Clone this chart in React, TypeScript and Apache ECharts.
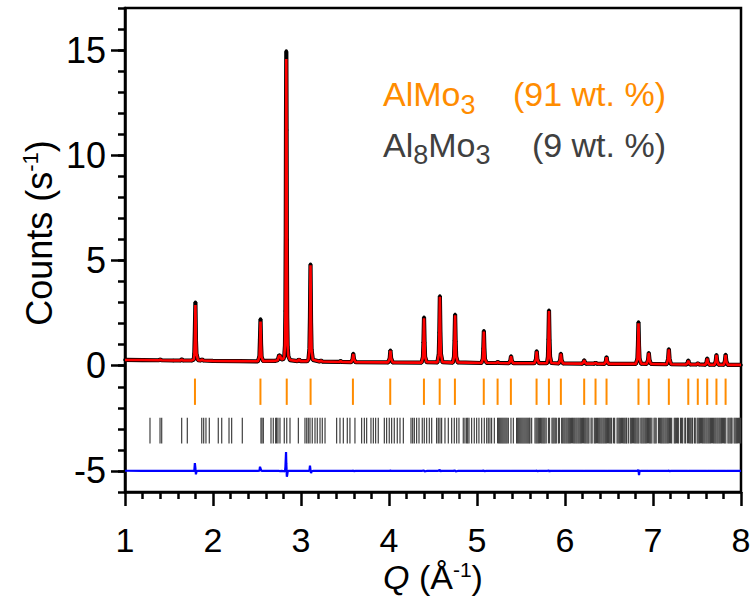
import React, { useEffect, useRef } from "react";
import * as echarts from "echarts";

// ---------- axis ticks ----------
const xTickValues = [1, 2, 3, 4, 5, 6, 7, 8];
const yMajorTicks = [-5, 0, 5, 10, 15];
const xRange = [1, 8];
const yRange = [-6, 17];

// ---------- texts ----------
const phaseLabels = [
  { parts: [["Al", false], ["Mo", false], ["3", true]], fraction: "(91 wt. %)" },
  { parts: [["Al", false], ["8", true], ["Mo", false], ["3", true]], fraction: "(9 wt. %)" },
];
// x-axis title pieces: [text, kind]
const xTitleParts = [["Q", "italic"], [" (Å", "normal"], ["-1", "sup"], [")", "normal"]];

// ---------- reflection markers (Q, 1/Å) ----------
const almo3Reflections = [
  1.795, 2.539, 2.838, 3.109, 3.590, 4.014, 4.397, 4.576, 4.749, 5.077,
  5.234, 5.385, 5.677, 5.817, 5.953, 6.218, 6.347, 6.472, 6.835, 6.952,
  7.180, 7.401, 7.509, 7.616, 7.721, 7.825,
];
const al8mo3Reflections = [
  1.284, 1.398, 1.417, 1.644, 1.708, 1.872, 1.894, 1.920, 1.958, 2.060,
  2.099, 2.182, 2.212, 2.333, 2.545, 2.557, 2.572, 2.659, 2.685, 2.712,
  2.722, 2.738, 2.761, 2.810, 2.838, 2.875, 2.970, 3.045, 3.065, 3.083,
  3.102, 3.128, 3.159, 3.185, 3.216, 3.242, 3.273, 3.405, 3.443, 3.481,
  3.526, 3.556, 3.613, 3.689, 3.720, 3.746, 3.795, 3.822, 3.848, 3.878,
  3.947, 3.973, 4.003, 4.030, 4.060, 4.094, 4.125, 4.163, 4.250, 4.269,
  4.288, 4.314, 4.341, 4.378, 4.401, 4.428, 4.458, 4.485, 4.541, 4.560,
  4.579, 4.598, 4.636, 4.674, 4.712, 4.742, 4.769, 4.795, 4.844, 4.863,
  4.882, 4.894, 4.909, 4.939, 4.969, 4.996, 5.022, 5.053, 5.083, 5.110,
  5.128, 5.147, 5.166, 5.197, 5.234, 5.246, 5.258, 5.270, 5.282, 5.294,
  5.306, 5.318, 5.330, 5.342, 5.356, 5.386, 5.413, 5.450, 5.462, 5.474,
  5.486, 5.498, 5.510, 5.522, 5.534, 5.546, 5.558, 5.570, 5.582, 5.594,
  5.602, 5.621, 5.659, 5.672, 5.684, 5.697, 5.709, 5.722, 5.735, 5.748,
  5.760, 5.772, 5.786, 5.812, 5.824, 5.852, 5.864, 5.876, 5.889, 5.901,
  5.925, 5.937, 5.962, 5.974, 5.987, 5.999, 6.012, 6.024, 6.037, 6.049,
  6.061, 6.074, 6.086, 6.099, 6.111, 6.124, 6.136, 6.149, 6.161, 6.174,
  6.186, 6.199, 6.211, 6.224, 6.236, 6.249, 6.261, 6.272, 6.296, 6.308,
  6.333, 6.345, 6.358, 6.370, 6.383, 6.395, 6.408, 6.420, 6.433, 6.445,
  6.458, 6.470, 6.483, 6.495, 6.508, 6.520, 6.530, 6.552, 6.564, 6.592,
  6.604, 6.617, 6.629, 6.642, 6.654, 6.667, 6.679, 6.692, 6.700, 6.720,
  6.742, 6.754, 6.767, 6.779, 6.792, 6.804, 6.817, 6.829, 6.840, 6.862,
  6.874, 6.887, 6.899, 6.912, 6.924, 6.937, 6.949, 6.962, 6.974, 6.987,
  7.012, 7.024, 7.036, 7.062, 7.074, 7.087, 7.099, 7.112, 7.124, 7.137,
  7.149, 7.162, 7.174, 7.187, 7.199, 7.212, 7.242, 7.254, 7.266, 7.279,
  7.288, 7.312, 7.324, 7.337, 7.362, 7.370, 7.392, 7.404, 7.417, 7.429,
  7.442, 7.450, 7.472, 7.480, 7.502, 7.514, 7.527, 7.539, 7.552, 7.564,
  7.577, 7.589, 7.602, 7.614, 7.627, 7.639, 7.652, 7.664, 7.677, 7.689,
  7.702, 7.714, 7.727, 7.739, 7.752, 7.764, 7.777, 7.789, 7.802, 7.814,
  7.827, 7.852, 7.864, 7.877, 7.889, 7.898, 7.922, 7.934, 7.947, 7.959,
  7.972, 7.984, 7.996,
];
const almo3MarkRange = [-0.61, -1.86];
const al8mo3MarkRange = [-2.47, -3.69];

// ---------- diffraction profile ----------
const profileQ = [
  1.000, 1.200, 1.385, 1.400, 1.415, 1.550, 1.630, 1.645, 1.660, 1.760,
  1.782, 1.788, 1.794, 1.800, 1.806, 1.812, 1.830,
  1.860, 1.875, 1.890, 2.000, 2.300, 2.510,
  2.528, 2.534, 2.540, 2.546, 2.552, 2.570,
  2.700, 2.735, 2.748, 2.755, 2.762, 2.780, 2.800, 2.810, 2.818, 2.823, 2.827, 2.830, 2.833, 2.836, 2.839, 2.843, 2.848, 2.856, 2.875,
  2.960, 2.977, 2.994, 3.070, 3.085, 3.096, 3.102, 3.108, 3.114, 3.120, 3.135,
  3.210, 3.227, 3.244, 3.435, 3.450, 3.465, 3.570, 3.586, 3.594, 3.602, 3.620, 3.990, 4.008, 4.016, 4.024, 4.042,
  4.370, 4.386, 4.392, 4.398, 4.404, 4.410, 4.428, 4.550, 4.566, 4.572, 4.578, 4.584, 4.590, 4.608, 4.725, 4.739, 4.745, 4.751, 4.757, 4.763, 4.781,
  5.050, 5.066, 5.072, 5.078, 5.084, 5.090, 5.108, 5.220, 5.236, 5.252, 5.362, 5.379, 5.387, 5.395, 5.412, 5.652, 5.670, 5.678, 5.686, 5.704,
  5.795, 5.806, 5.812, 5.818, 5.824, 5.830, 5.845, 5.928, 5.945, 5.953, 5.961, 5.978, 6.195, 6.210, 6.218, 6.226, 6.241, 6.330, 6.347, 6.364, 6.448, 6.464, 6.472, 6.480, 6.496,
  6.805, 6.823, 6.829, 6.835, 6.841, 6.847, 6.865, 6.928, 6.944, 6.952, 6.960, 6.976, 7.155, 7.172, 7.180, 7.188, 7.205,
  7.378, 7.393, 7.401, 7.409, 7.424, 7.493, 7.509, 7.525, 7.595, 7.608, 7.616, 7.624, 7.640, 7.700, 7.713, 7.721, 7.729, 7.745, 7.805, 7.817, 7.825, 7.833, 7.850, 8.000,
];
const observedCounts = [
  0.28, 0.27, 0.26, 0.30, 0.26, 0.25, 0.25, 0.31, 0.25, 0.25,
  0.30, 0.58, 1.62, 3.02, 1.20, 0.55, 0.27,
  0.25, 0.30, 0.25, 0.23, 0.22, 0.21,
  0.45, 1.25, 2.22, 1.02, 0.42, 0.23,
  0.23, 0.26, 0.45, 0.51, 0.45, 0.30, 0.32, 0.45, 0.95, 2.60, 6.20, 11.90, 14.95, 11.20, 6.00, 2.30, 0.90, 0.45, 0.27,
  0.22, 0.30, 0.22, 0.22, 0.30, 0.80, 2.30, 4.82, 2.05, 0.75, 0.28,
  0.20, 0.24, 0.20, 0.18, 0.22, 0.18, 0.17, 0.30, 0.58, 0.30, 0.17, 0.16, 0.34, 0.74, 0.35, 0.16,
  0.15, 0.42, 1.12, 2.30, 1.10, 0.42, 0.17, 0.16, 0.55, 1.58, 3.31, 1.55, 0.56, 0.17, 0.15, 0.43, 1.20, 2.44, 1.16, 0.44, 0.16,
  0.13, 0.32, 0.82, 1.66, 0.80, 0.32, 0.14, 0.13, 0.18, 0.13, 0.12, 0.24, 0.46, 0.24, 0.12, 0.12, 0.30, 0.70, 0.30, 0.12,
  0.12, 0.42, 1.26, 2.64, 1.22, 0.43, 0.13, 0.11, 0.26, 0.58, 0.26, 0.11, 0.10, 0.16, 0.27, 0.16, 0.10, 0.10, 0.14, 0.10, 0.09, 0.20, 0.42, 0.20, 0.09,
  0.09, 0.33, 0.98, 2.08, 0.92, 0.33, 0.10, 0.09, 0.27, 0.62, 0.27, 0.09, 0.07, 0.32, 0.80, 0.32, 0.07,
  0.06, 0.13, 0.26, 0.13, 0.06, 0.06, 0.12, 0.06, 0.05, 0.16, 0.36, 0.16, 0.05, 0.05, 0.22, 0.52, 0.22, 0.05, 0.05, 0.22, 0.53, 0.22, 0.04, 0.04,
];
const calculatedCounts = [
  0.27, 0.27, 0.26, 0.29, 0.26, 0.25, 0.25, 0.30, 0.25, 0.25,
  0.30, 0.55, 1.25, 2.88, 1.36, 0.58, 0.26,
  0.25, 0.30, 0.25, 0.23, 0.22, 0.21,
  0.44, 1.05, 2.10, 0.98, 0.42, 0.22,
  0.23, 0.26, 0.44, 0.50, 0.46, 0.30, 0.33, 0.45, 0.98, 2.40, 5.60, 11.00, 14.58, 11.10, 6.27, 2.50, 0.95, 0.45, 0.27,
  0.22, 0.30, 0.22, 0.22, 0.30, 0.78, 2.05, 4.78, 2.15, 0.77, 0.28,
  0.20, 0.24, 0.20, 0.18, 0.22, 0.18, 0.17, 0.30, 0.56, 0.31, 0.17, 0.16, 0.34, 0.72, 0.35, 0.16,
  0.15, 0.41, 1.08, 2.26, 1.12, 0.42, 0.17, 0.16, 0.54, 1.52, 3.28, 1.58, 0.56, 0.17, 0.15, 0.43, 1.16, 2.40, 1.18, 0.44, 0.16,
  0.13, 0.32, 0.79, 1.62, 0.81, 0.32, 0.14, 0.13, 0.18, 0.13, 0.12, 0.24, 0.45, 0.24, 0.12, 0.12, 0.30, 0.68, 0.31, 0.12,
  0.12, 0.41, 1.22, 2.60, 1.25, 0.43, 0.13, 0.11, 0.26, 0.57, 0.26, 0.11, 0.10, 0.16, 0.26, 0.16, 0.10, 0.10, 0.14, 0.10, 0.09, 0.20, 0.41, 0.20, 0.09,
  0.09, 0.32, 1.00, 2.02, 1.12, 0.34, 0.10, 0.09, 0.27, 0.61, 0.27, 0.09, 0.07, 0.32, 0.78, 0.33, 0.07,
  0.06, 0.13, 0.25, 0.13, 0.06, 0.06, 0.12, 0.06, 0.05, 0.16, 0.35, 0.16, 0.05, 0.05, 0.22, 0.51, 0.22, 0.05, 0.05, 0.22, 0.52, 0.22, 0.04, 0.04,
];
const differenceOffset = -5;

const FONT = "'Liberation Sans', Arial, Helvetica, sans-serif";
const ORANGE = "#FF8C00";
const DARK = "#404040";
const MAIN_SIZE = 34;
const SUB_SIZE = 27;
const AXIS_SIZE = 36;
const XLABEL_SIZE = 34;
const XTITLE_SIZE = 34;
const SUP_SIZE = 21;

function measure(text: string, size: number, italic = false): number {
  const c = document.createElement("canvas");
  const ctx = c.getContext("2d");
  if (!ctx) return text.length * size * 0.55;
  ctx.font = `${italic ? "italic " : ""}${size}px ${FONT}`;
  return ctx.measureText(text).width;
}

function tickMarks(name: string, positions: number[], range: number[], color: string, width: number) {
  return {
    type: "custom",
    name,
    coordinateSystem: "cartesian2d",
    xAxisIndex: 0,
    yAxisIndex: 0,
    silent: true,
    z: 3,
    data: positions.map((q) => [q, range[0], range[1]]),
    encode: { x: 0, y: [1, 2] },
    renderItem: (_params: any, api: any) => {
      const a = api.coord([api.value(0), api.value(1)]);
      const b = api.coord([api.value(0), api.value(2)]);
      return {
        type: "line",
        shape: { x1: a[0], y1: a[1], x2: b[0], y2: b[1] },
        style: { stroke: color, lineWidth: width },
      };
    },
  };
}

function textEl(x: number, baseline: number, text: string, size: number, color: string, align: string, italic = false) {
  return {
    type: "text",
    x,
    y: baseline - 0.38 * size,
    silent: true,
    style: {
      text,
      fill: color,
      fontSize: size,
      fontFamily: FONT,
      fontStyle: italic ? "italic" : "normal",
      align,
      verticalAlign: "middle",
    },
  };
}

function legendGraphics() {
  const out: any[] = [];
  const left = 383;
  const right = 666;
  const baselines = [107, 157.5];
  const colors = [ORANGE, DARK];
  phaseLabels.forEach((row, r) => {
    const base = baselines[r];
    const color = colors[r];
    let x = left;
    row.parts.forEach(([txt, isSub]) => {
      const size = isSub ? SUB_SIZE : MAIN_SIZE;
      out.push(textEl(x, isSub ? base + 8 : base, txt as string, size, color, "left"));
      x += measure(txt as string, size);
    });
    out.push(textEl(right, base, row.fraction, MAIN_SIZE, color, "right"));
  });
  return out;
}

function xTitleGraphics(centerX: number, baseline: number) {
  const widths = xTitleParts.map(([t, k]) =>
    measure(t, k === "sup" ? SUP_SIZE : XTITLE_SIZE, k === "italic")
  );
  const total = widths.reduce((a, b) => a + b, 0);
  let x = centerX - total / 2;
  const out: any[] = [];
  xTitleParts.forEach(([t, k], i) => {
    if (k === "sup") out.push(textEl(x, baseline - 13, t, SUP_SIZE, "#000", "left"));
    else out.push(textEl(x, baseline, t, XTITLE_SIZE, "#000", "left", k === "italic"));
    x += widths[i];
  });
  return out;
}

export default function App() {
  const ref = useRef<HTMLDivElement>(null);

  useEffect(() => {
    document.body.style.margin = "0";
    if (!ref.current) return;
    const chart = echarts.init(ref.current, undefined, { renderer: "svg" });

    const n = Math.min(profileQ.length, observedCounts.length, calculatedCounts.length);
    const obs = [] as number[][];
    const calc = [] as number[][];
    const diff = [] as number[][];
    for (let i = 0; i < n; i++) {
      obs.push([profileQ[i], observedCounts[i]]);
      calc.push([profileQ[i], calculatedCounts[i]]);
      diff.push([profileQ[i], differenceOffset + observedCounts[i] - calculatedCounts[i]]);
    }

    const axisLineStyle = { color: "#000", width: 2.5 };
    const xInterval = xTickValues[1] - xTickValues[0];

    chart.setOption({
      animation: false,
      backgroundColor: "#fff",
      grid: {
        left: 125,
        right: 11,
        top: 8,
        bottom: 104,
        show: true,
        borderColor: "#000",
        borderWidth: 2.5,
        backgroundColor: "transparent",
        containLabel: false,
        outerBoundsMode: "none",
      },
      xAxis: {
        type: "value",
        min: xRange[0],
        max: xRange[1],
        interval: xInterval,
        axisLine: { show: true, onZero: false, lineStyle: axisLineStyle },
        axisTick: { show: true, inside: false, length: 14, lineStyle: axisLineStyle },
        minorTick: { show: true, splitNumber: 5, length: 7, lineStyle: axisLineStyle },
        splitLine: { show: false },
        minorSplitLine: { show: false },
        axisLabel: {
          margin: 31,
          fontSize: XLABEL_SIZE,
          fontFamily: FONT,
          color: "#000",
        },
      },
      yAxis: [
        {
          type: "value",
          position: "left",
          min: yRange[0],
          max: yRange[1],
          axisLine: { show: true, onZero: false, lineStyle: axisLineStyle },
          axisTick: { show: true, inside: false, length: 14, lineStyle: axisLineStyle, customValues: yMajorTicks },
          splitLine: { show: false },
          axisLabel: {
            customValues: yMajorTicks,
            margin: 19,
            fontSize: AXIS_SIZE,
            fontFamily: FONT,
            color: "#000",
          },
          name: "Counts (s{sup|-1})",
          nameLocation: "middle",
          nameRotate: 90,
          nameGap: 66,
          nameMoveOverlap: false,
          nameTextStyle: {
            fontSize: AXIS_SIZE,
            fontFamily: FONT,
            color: "#000",
            lineHeight: 40,
            padding: [0, 0, 0, 34],
            rich: {
              sup: { fontSize: 22, fontFamily: FONT, verticalAlign: "top", lineHeight: 20, color: "#000" },
            },
          },
        },
        {
          type: "value",
          position: "left",
          min: yRange[0],
          max: yRange[1],
          interval: 1,
          axisLine: { show: false },
          axisTick: { show: true, inside: false, length: 7, lineStyle: axisLineStyle },
          axisLabel: { show: false },
          splitLine: { show: false },
        },
      ],
      graphic: [...legendGraphics(), ...xTitleGraphics(433, 590)],
      series: [
        tickMarks("AlMo3 reflections", almo3Reflections, almo3MarkRange, ORANGE, 2),
        tickMarks("Al8Mo3 reflections", al8mo3Reflections, al8mo3MarkRange, DARK, 1.2),
        {
          type: "line",
          name: "Difference",
          data: diff,
          showSymbol: false,
          lineStyle: { color: "#0000FF", width: 2.2 },
          itemStyle: { color: "#0000FF" },
          z: 4,
        },
        {
          type: "line",
          name: "Observed",
          data: obs,
          symbol: "circle",
          symbolSize: 3.5,
          showSymbol: true,
          showAllSymbol: true,
          lineStyle: { color: "#000", width: 4.2 },
          itemStyle: { color: "#000" },
          z: 5,
        },
        {
          type: "line",
          name: "Calculated",
          data: calc,
          showSymbol: false,
          lineStyle: { color: "#FF0000", width: 2.6 },
          itemStyle: { color: "#FF0000" },
          z: 6,
        },
      ],
    });

    return () => chart.dispose();
  }, []);

  return (
    <div
      ref={ref}
      style={{ position: "fixed", left: 0, top: 0, width: 752, height: 596, background: "#fff" }}
    />
  );
}
